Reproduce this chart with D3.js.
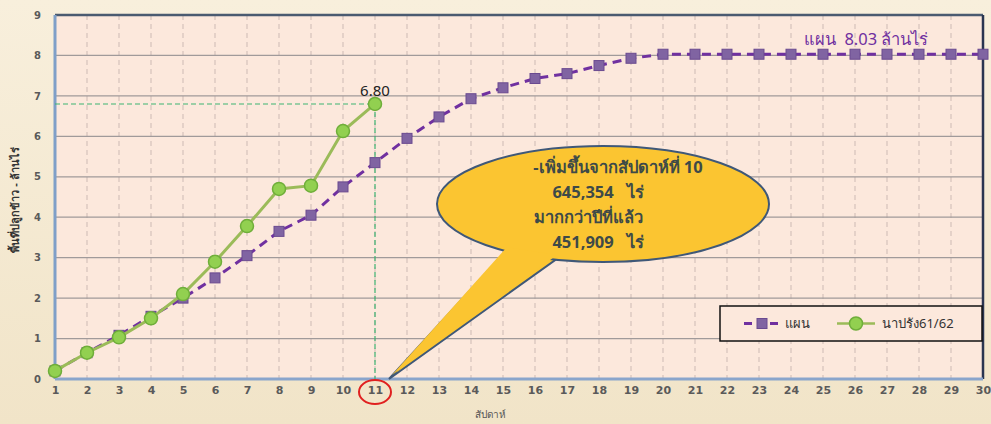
<!DOCTYPE html>
<html>
<head>
<meta charset="utf-8">
<script src="https://cdn.jsdelivr.net/npm/d3@7"></script>
<style>
body { margin: 0; background: #f6ecd6; }
#chart { width: 991px; height: 424px; }
text { white-space: pre; }
</style>
</head>
<body>
<div id="chart"></div>
<script>
// Data
var weeks = d3.range(1, 31);
var planValues = [0.2, 0.65, 1.08, 1.55, 2.0, 2.5, 3.05, 3.65, 4.05, 4.75,
	5.35, 5.95, 6.48, 6.93, 7.2, 7.43, 7.55, 7.75, 7.93, 8.03,
	8.03, 8.03, 8.03, 8.03, 8.03, 8.03, 8.03, 8.03, 8.03, 8.03];
var actualValues = [0.2, 0.65, 1.03, 1.5, 2.1, 2.9, 3.78, 4.7, 4.78, 6.13, 6.80];
var yTicks = [0, 1, 2, 3, 4, 5, 6, 7, 8, 9];
var seriesNames = ['แผน', 'นาปรัง61/62'];
var calloutLines = ['-เพิ่มขึ้นจากสัปดาห์ที่ 10', '645,354   ไร่', 'มากกว่าปีที่แล้ว', '451,909   ไร่'];

var fullWidth = 991, fullHeight = 424;
var margin = {top: 15, right: 6, bottom: 44, left: 55};
var width = fullWidth - margin.left - margin.right;
var height = fullHeight - margin.top - margin.bottom;

var svg = d3.select('#chart')
	.append('svg')
	.attr('width', fullWidth)
	.attr('height', fullHeight);

// Background gradient
var defs = svg.append('defs');
var grad = defs.append('linearGradient').attr('id', 'bg').attr('x1', 0).attr('y1', 0).attr('x2', 0).attr('y2', 1);
grad.append('stop').attr('offset', '0%').attr('stop-color', '#f8efdc');
grad.append('stop').attr('offset', '100%').attr('stop-color', '#f1e4c8');
svg.append('rect').attr('width', fullWidth).attr('height', fullHeight).attr('fill', 'url(#bg)');

var g = svg.append('g')
	.attr('transform', 'translate(' + margin.left + ',' + margin.top + ')');

var xScale = d3.scaleLinear().domain([1, 30]).range([0, 928]);
var yScale = d3.scaleLinear().domain([0, 9]).range([height - 1, 0]);

// Plot area
g.append('rect')
	.attr('x', 0).attr('y', 0)
	.attr('width', xScale(30)).attr('height', yScale(0))
	.attr('fill', '#fce8dc');

// Vertical dashed grid
g.selectAll('.vgrid')
	.data(weeks.slice(1, 29))
	.enter()
	.append('line')
	.attr('x1', function(d) { return xScale(d); })
	.attr('x2', function(d) { return xScale(d); })
	.attr('y1', 0).attr('y2', yScale(0))
	.attr('stroke', '#cdbab4')
	.attr('stroke-width', 1)
	.attr('stroke-dasharray', '5,4');

// Horizontal grid
g.selectAll('.hgrid')
	.data(yTicks.slice(1, 9))
	.enter()
	.append('line')
	.attr('x1', 0).attr('x2', xScale(30))
	.attr('y1', function(d) { return yScale(d); })
	.attr('y2', function(d) { return yScale(d); })
	.attr('stroke', '#a09a9a')
	.attr('stroke-width', 1.2);

// Borders
g.append('line').attr('x1', 0).attr('x2', xScale(30)).attr('y1', 0).attr('y2', 0)
	.attr('stroke', '#4a5a70').attr('stroke-width', 2.5);
g.append('line').attr('x1', xScale(30)).attr('x2', xScale(30)).attr('y1', 0).attr('y2', yScale(0))
	.attr('stroke', '#2a3550').attr('stroke-width', 2.5);
g.append('line').attr('x1', 0).attr('x2', 0).attr('y1', 0).attr('y2', yScale(0))
	.attr('stroke', '#7f9fc8').attr('stroke-width', 3);
g.append('line').attr('x1', 0).attr('x2', xScale(30)).attr('y1', yScale(0)).attr('y2', yScale(0))
	.attr('stroke', '#8aa5cc').attr('stroke-width', 3);

// Axes labels
var xAxis = d3.axisBottom(xScale).tickValues(weeks).tickSize(0).tickPadding(7).tickFormat(d3.format('d'));
var xg = g.append('g').attr('transform', 'translate(0,' + yScale(0) + ')').call(xAxis);
xg.select('.domain').remove();
xg.selectAll('text').attr('font-family', 'DejaVu Sans').attr('font-size', 11).attr('font-weight', 'bold').attr('fill', '#5a5a5a');

var yAxis = d3.axisLeft(yScale).tickValues(yTicks).tickSize(0).tickPadding(14);
var yg = g.append('g').call(yAxis);
yg.select('.domain').remove();
yg.selectAll('text').attr('font-family', 'DejaVu Sans').attr('font-size', 10).attr('font-weight', 'bold').attr('fill', '#5a5a5a');

// Axis titles
svg.append('text')
	.attr('transform', 'translate(19,' + 200 + ') rotate(-90)')
	.attr('text-anchor', 'middle')
	.attr('font-family', 'Noto Sans')
	.attr('font-size', 11)
	.attr('font-weight', 'bold')
	.attr('fill', '#333')
	.text('พื้นที่ปลูกข้าว - ล้านไร่');
svg.append('text')
	.attr('x', 490).attr('y', 418)
	.attr('text-anchor', 'middle')
	.attr('font-family', 'Noto Sans')
	.attr('font-size', 10)
	.attr('fill', '#555')
	.text('สัปดาห์');

// Green reference lines at week 11
var lastWeek = actualValues.length;
var lastVal = actualValues[lastWeek - 1];
g.append('line')
	.attr('x1', 0).attr('x2', xScale(lastWeek))
	.attr('y1', yScale(lastVal)).attr('y2', yScale(lastVal))
	.attr('stroke', '#3cb371').attr('stroke-width', 1.2).attr('stroke-dasharray', '5,3');
g.append('line')
	.attr('x1', xScale(lastWeek)).attr('x2', xScale(lastWeek))
	.attr('y1', yScale(lastVal)).attr('y2', yScale(0))
	.attr('stroke', '#3cb371').attr('stroke-width', 1.2).attr('stroke-dasharray', '5,3');

// Plan line
var line = d3.line()
	.x(function(d, i) { return xScale(weeks[i]); })
	.y(function(d) { return yScale(d); });

g.append('path')
	.datum(planValues)
	.attr('d', line)
	.attr('fill', 'none')
	.attr('stroke', '#7030a0')
	.attr('stroke-width', 3)
	.attr('stroke-dasharray', '9,6');

g.selectAll('.plan')
	.data(planValues)
	.enter()
	.append('rect')
	.attr('x', function(d, i) { return xScale(weeks[i]) - 5; })
	.attr('y', function(d) { return yScale(d) - 5; })
	.attr('width', 10).attr('height', 10)
	.attr('fill', '#8064a2')
	.attr('stroke', '#6a4a90')
	.attr('stroke-width', 1);

// Actual line
g.append('path')
	.datum(actualValues)
	.attr('d', line)
	.attr('fill', 'none')
	.attr('stroke', '#9bbb59')
	.attr('stroke-width', 3);

g.selectAll('.actual')
	.data(actualValues)
	.enter()
	.append('circle')
	.attr('cx', function(d, i) { return xScale(weeks[i]); })
	.attr('cy', function(d) { return yScale(d); })
	.attr('r', 6.5)
	.attr('fill', '#92d050')
	.attr('stroke', '#6fae3a')
	.attr('stroke-width', 1.5);

// Last value label
g.append('text')
	.attr('x', xScale(lastWeek)).attr('y', yScale(lastVal) - 8)
	.attr('text-anchor', 'middle')
	.attr('font-family', 'Noto Sans')
	.attr('font-size', 15)
	.attr('fill', '#222')
	.text(lastVal.toFixed(2));

// Plan total label
g.append('text')
	.attr('x', xScale(24.4)).attr('y', yScale(8.03) - 9)
	.attr('font-family', 'Noto Sans')
	.attr('font-size', 16.5)
	.attr('fill', '#7030a0')
	.text('แผน  ' + planValues[planValues.length - 1].toFixed(2) + ' ล้านไร่');

// Red circle around week 11 label
g.append('ellipse')
	.attr('cx', xScale(lastWeek)).attr('cy', yScale(0) + 13)
	.attr('rx', 16).attr('ry', 12)
	.attr('fill', 'none')
	.attr('stroke', '#e02020')
	.attr('stroke-width', 2);

// Callout bubble
var cx = 603 - margin.left, cy = 204 - margin.top, rx = 166, ry = 58;
var tipX = xScale(lastWeek) + 14, tipY = yScale(0);
g.append('path')
	.attr('d', 'M' + (cx - 95) + ',' + (cy + 45) + ' L' + tipX + ',' + tipY + ' L' + (cx - 45) + ',' + (cy + 54) + ' Z')
	.attr('fill', '#fbc531')
	.attr('stroke', '#3f5878')
	.attr('stroke-width', 2);
g.append('ellipse')
	.attr('cx', cx).attr('cy', cy).attr('rx', rx).attr('ry', ry)
	.attr('fill', '#fbc531')
	.attr('stroke', '#3f5878')
	.attr('stroke-width', 2);
// cover the seam between tail and ellipse
g.append('path')
	.attr('d', 'M' + (cx - 96) + ',' + (cy + 43) + ' L' + (tipX + 3) + ',' + (tipY - 4) + ' L' + (cx - 46) + ',' + (cy + 51) + ' Z')
	.attr('fill', '#fbc531');

var calloutPos = [[618, 167], [598, 192], [588, 217], [598, 242]];
g.selectAll('.callout')
	.data(calloutLines)
	.enter()
	.append('text')
	.attr('x', function(d, i) { return calloutPos[i][0] - margin.left; })
	.attr('y', function(d, i) { return calloutPos[i][1] - margin.top + 6; })
	.attr('text-anchor', 'middle')
	.attr('font-family', 'Noto Sans')
	.attr('font-size', 16.5)
	.attr('font-weight', 'bold')
	.attr('fill', '#3e4a48')
	.text(function(d) { return d; });

// Legend
var lg = svg.append('g').attr('transform', 'translate(720,306)');
lg.append('rect').attr('width', 262).attr('height', 35)
	.attr('fill', '#fce8dc').attr('stroke', '#111').attr('stroke-width', 1.5);
lg.append('line').attr('x1', 24).attr('x2', 60).attr('y1', 17.5).attr('y2', 17.5)
	.attr('stroke', '#7030a0').attr('stroke-width', 3).attr('stroke-dasharray', '8,5');
lg.append('rect').attr('x', 37).attr('y', 12.5).attr('width', 10).attr('height', 10)
	.attr('fill', '#8064a2').attr('stroke', '#6a4a90');
lg.append('text').attr('x', 65).attr('y', 22).attr('font-family', 'Noto Sans').attr('font-size', 13)
	.attr('fill', '#333').text(seriesNames[0]);
lg.append('line').attr('x1', 117).attr('x2', 155).attr('y1', 17.5).attr('y2', 17.5)
	.attr('stroke', '#9bbb59').attr('stroke-width', 2.5);
lg.append('circle').attr('cx', 136).attr('cy', 17.5).attr('r', 6.5)
	.attr('fill', '#92d050').attr('stroke', '#6fae3a').attr('stroke-width', 1.5);
lg.append('text').attr('x', 162).attr('y', 22).attr('font-family', 'Noto Sans').attr('font-size', 13)
	.attr('fill', '#333').text(seriesNames[1]);
</script>
</body>
</html>
